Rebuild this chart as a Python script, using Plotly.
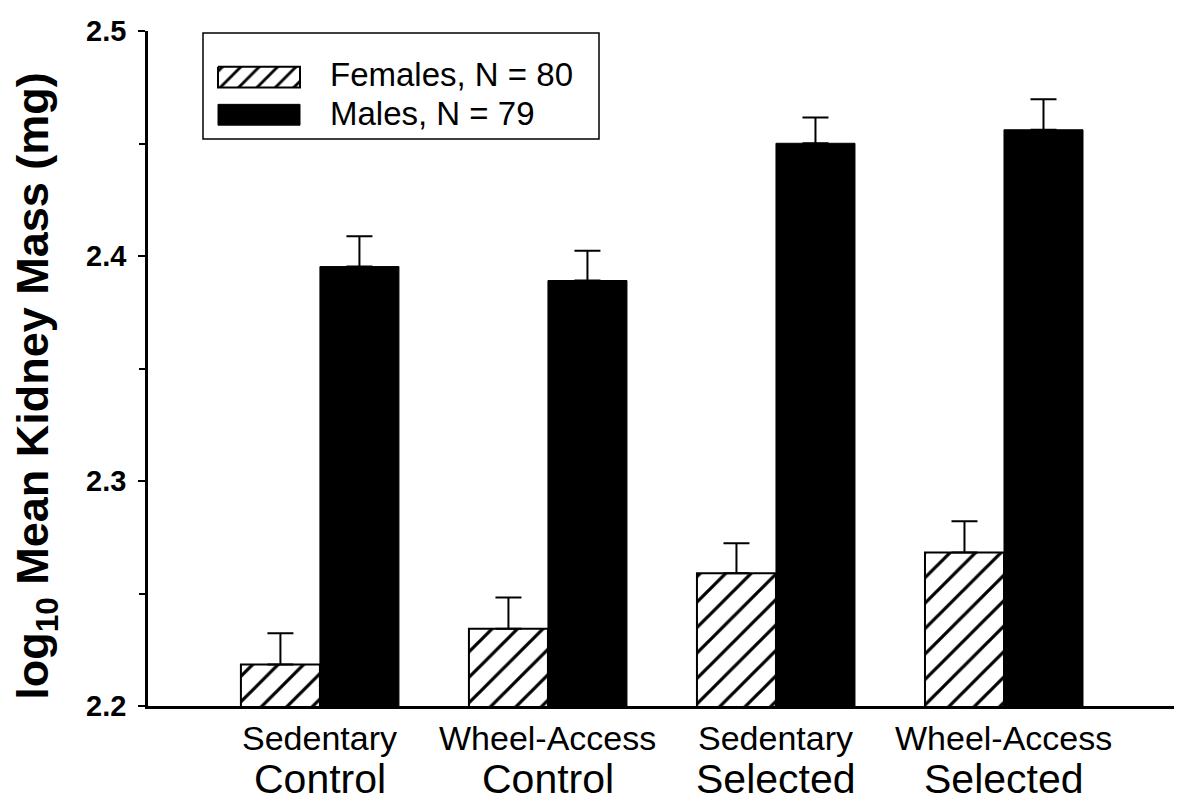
import plotly.graph_objects as go

# ---- data ----
conditions = ["Sedentary", "Wheel-Access", "Sedentary", "Wheel-Access"]
lines_ = ["Control", "Control", "Selected", "Selected"]
categories = ["Sedentary Control", "Wheel-Access Control", "Sedentary Selected", "Wheel-Access Selected"]
female_mean = [2.2185, 2.2343, 2.2590, 2.2682]
female_se = [0.0138, 0.0139, 0.0133, 0.0139]
male_mean = [2.3953, 2.3891, 2.4501, 2.4561]
male_se = [0.0135, 0.0132, 0.0115, 0.0136]
female_label = "Females, N = 80"
male_label = "Males, N = 79"
y_ticks = [2.2, 2.3, 2.4, 2.5]
y_title = "log<sub>10</sub> Mean Kidney Mass (mg)"

FONT = "Liberation Sans, Arial, sans-serif"

# The page body has an 8px margin; lay out in page pixels and shift.
OFF = 8
W, H = 1182 - OFF, 804 - OFF
L, R, T, B = 148 - OFF, 1175 - OFF, 25 - OFF, 706 - OFF


def px(x):  # page x pixel -> paper
    return (x - OFF - L) / (R - L)


def py(y):  # page y pixel -> paper
    return (B - (y - OFF)) / (B - T)


fig = go.Figure()

fig.add_trace(go.Bar(
    x=categories, y=female_mean, name=female_label,
    marker=dict(color="white", line=dict(color="black", width=2),
                pattern=dict(shape="/", fgcolor="black", bgcolor="white", fgopacity=1,
                             size=18, solidity=0.18)),
    error_y=dict(type="data", array=female_se, arrayminus=[0] * 4,
                 symmetric=False, color="black", thickness=2, width=13),
    showlegend=False,
))
fig.add_trace(go.Bar(
    x=categories, y=male_mean, name=male_label,
    marker=dict(color="black", line=dict(color="black", width=1)),
    error_y=dict(type="data", array=male_se, arrayminus=[0] * 4,
                 symmetric=False, color="black", thickness=2, width=13),
    showlegend=False,
))

# legend hatched swatch (overlay axes in page pixel coordinates)
sx0, sx1, sy0, sy1 = 218, 300, 61, 82
fig.add_trace(go.Scatter(
    x=[sx0, sx1, sx1, sx0, sx0], y=[sy0, sy0, sy1, sy1, sy0],
    xaxis="x2", yaxis="y2", mode="lines", fill="toself",
    fillcolor="white",
    fillpattern=dict(shape="/", fgcolor="black", bgcolor="white", fgopacity=1,
                     size=13, solidity=0.22),
    line=dict(color="black", width=2), hoverinfo="skip", showlegend=False,
))

shapes = [
    dict(type="rect", xref="paper", yref="paper", x0=px(203), x1=px(599),
         y0=py(134), y1=py(27), line=dict(color="black", width=1.5), fillcolor="rgba(0,0,0,0)"),
    dict(type="rect", xref="paper", yref="paper", x0=px(218), x1=px(300),
         y0=py(120), y1=py(99), line=dict(color="black", width=1), fillcolor="black"),
]

annotations = [
    dict(text=female_label, xref="paper", yref="paper", x=px(328), y=py(69),
         xanchor="left", yanchor="middle", showarrow=False,
         font=dict(family=FONT, size=33, color="black")),
    dict(text=male_label, xref="paper", yref="paper", x=px(328), y=py(108),
         xanchor="left", yanchor="middle", showarrow=False,
         font=dict(family=FONT, size=33, color="black")),
    dict(text=y_title, xref="paper", yref="paper", x=px(36), y=py(383),
         xanchor="center", yanchor="middle", textangle=-90, showarrow=False,
         font=dict(family=FONT, size=45, color="black", weight="bold")),
]
for cat, c, ln in zip(categories, conditions, lines_):
    annotations.append(dict(text=c, x=cat, xref="x", yref="paper", y=0, yshift=-32,
                            xanchor="center", yanchor="middle", showarrow=False,
                            font=dict(family=FONT, size=34, color="black")))
    annotations.append(dict(text=ln, x=cat, xref="x", yref="paper", y=0, yshift=-73,
                            xanchor="center", yanchor="middle", showarrow=False,
                            font=dict(family=FONT, size=41, color="black")))

fig.update_layout(
    width=W, height=H,
    margin=dict(l=L, r=W - R, t=T, b=H - B, pad=0),
    paper_bgcolor="white", plot_bgcolor="white",
    barmode="group", bargap=0.307, bargroupgap=0,
    shapes=shapes, annotations=annotations,
    font=dict(family=FONT, color="black"),
    xaxis=dict(type="category", range=[-0.754, 3.75], showticklabels=False,
               ticks="", showgrid=False, zeroline=False,
               showline=True, linecolor="black", linewidth=3),
    yaxis=dict(range=[2.2, 2.5], tickvals=y_ticks, ticktext=[f"{v:.1f}" for v in y_ticks],
               ticks="outside", ticklen=7, tickwidth=2, tickcolor="black",
               ticklabelstandoff=6,
               tickfont=dict(family=FONT, size=29, color="black", weight="bold"),
               minor=dict(dtick=0.05, tick0=2.2, ticks="outside", ticklen=6,
                          tickwidth=2, tickcolor="black", showgrid=False),
               showgrid=False, zeroline=False,
               showline=True, linecolor="black", linewidth=2.5),
    xaxis2=dict(overlaying="x", anchor="y2", range=[L + OFF, R + OFF], visible=False),
    yaxis2=dict(overlaying="y", anchor="x2", range=[B + OFF, T + OFF], visible=False),
)

fig.write_html("out.html")
